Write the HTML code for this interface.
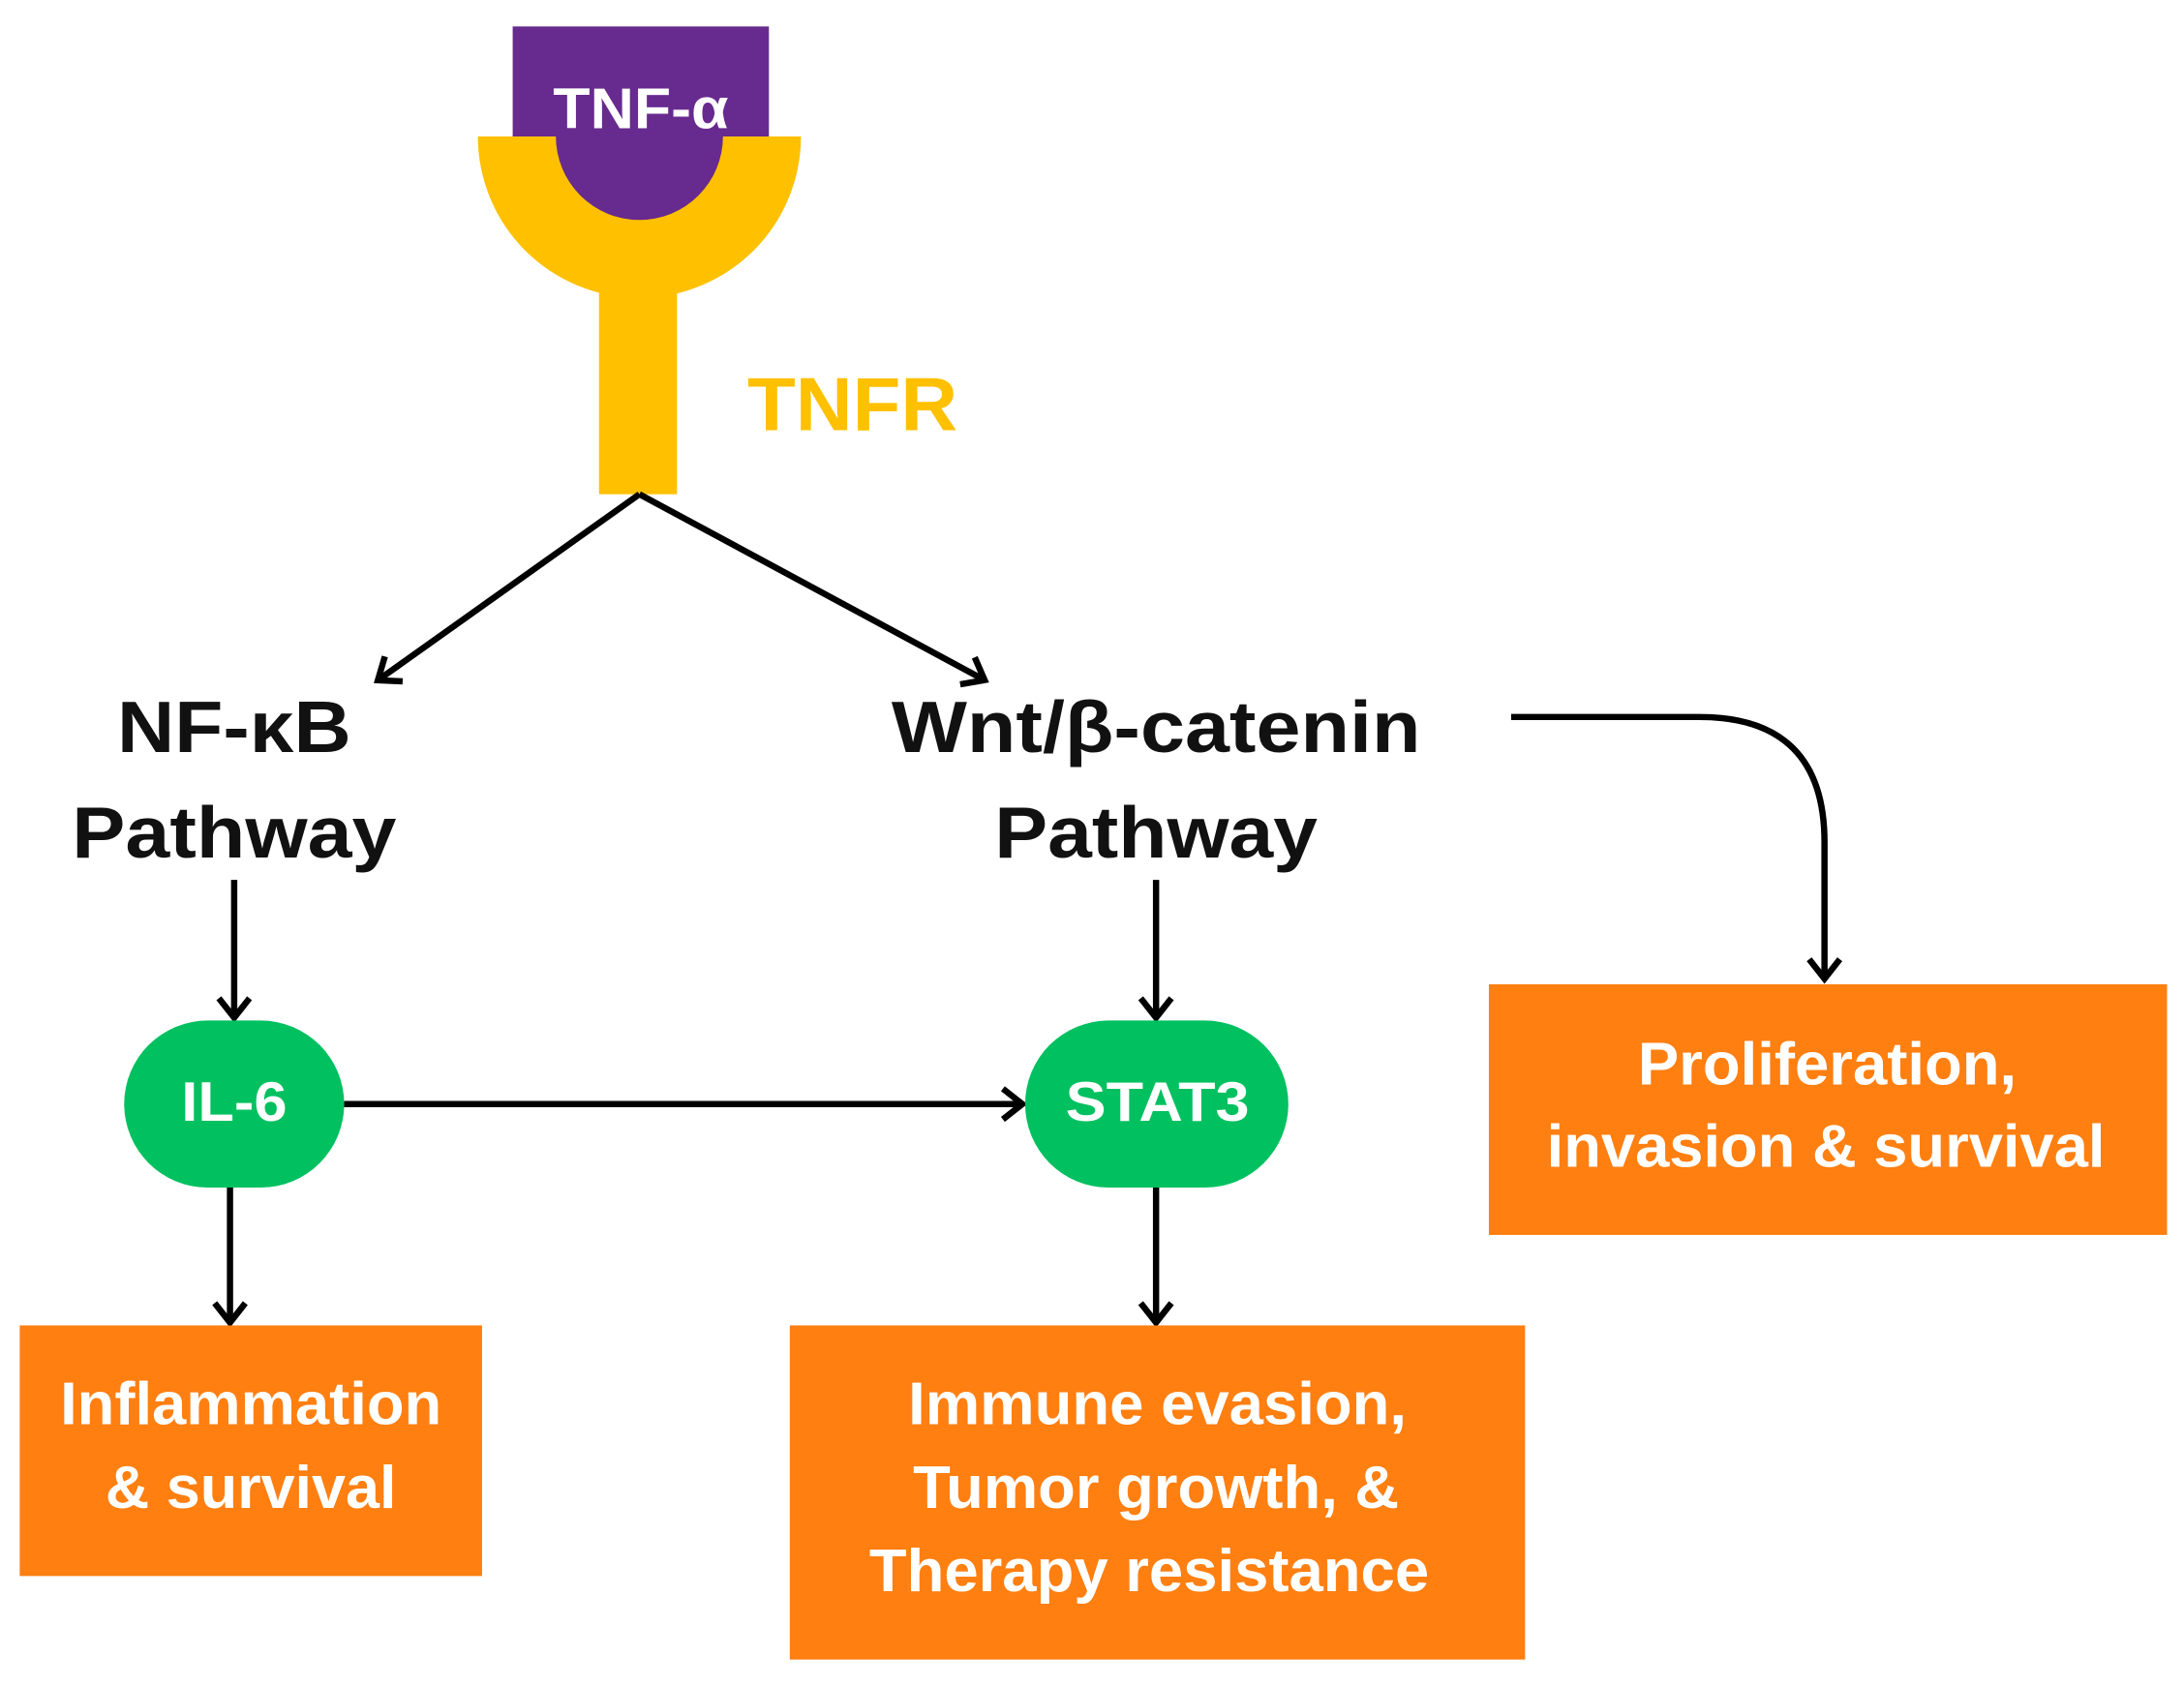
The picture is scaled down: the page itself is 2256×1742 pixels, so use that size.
<!DOCTYPE html>
<html><head><meta charset="utf-8"><style>html,body{margin:0;padding:0;background:#fff}svg{display:block}</style></head>
<body>
<svg width="2256" height="1742" viewBox="0 0 1568 1211" xmlns="http://www.w3.org/2000/svg" font-family="Liberation Sans, sans-serif" font-weight="bold">
<defs>
<marker id="m" markerWidth="30" markerHeight="30" refX="25" refY="15" orient="auto" markerUnits="userSpaceOnUse"><path d="M12,4 L26,15 L12,26" fill="none" stroke="#000" stroke-width="4.5"/></marker></defs>
<rect x="368" y="19" width="184" height="82" fill="#672A8E"/>
<path d="M343,98 A116,116 0 0 0 575,98 Z" fill="#FFC000"/>
<rect x="430" y="190" width="56" height="165" fill="#FFC000"/>
<path d="M399,98 A60,60 0 0 0 519,98 Z" fill="#672A8E"/>
<g text-anchor="middle" lengthAdjust="spacingAndGlyphs">
<text x="460" y="92" font-size="41" fill="#fff" textLength="126" lengthAdjust="spacingAndGlyphs">TNF-α</text>
<text x="612" y="309" font-size="54" fill="#FFC000" textLength="151" lengthAdjust="spacingAndGlyphs">TNFR</text>
</g>
<g stroke="#000" stroke-width="4.5" fill="none" marker-end="url(#m)">
<line x1="459" y1="355" x2="272" y2="488"/>
<line x1="459" y1="355" x2="706" y2="488"/>
<path d="M1085,515 L1220,515 Q1310,515 1310,605 L1310,702"/>
<line x1="168" y1="632" x2="168" y2="730"/>
<line x1="830" y1="632" x2="830" y2="730"/>
<line x1="247" y1="793" x2="733" y2="793"/>
<line x1="165" y1="853" x2="165" y2="949"/>
<line x1="830" y1="853" x2="830" y2="949"/>
</g>
<g font-size="52" fill="#111" text-anchor="middle">
<text x="168" y="540" textLength="168" lengthAdjust="spacingAndGlyphs">NF-κB</text>
<text x="168" y="616" textLength="233" lengthAdjust="spacingAndGlyphs">Pathway</text>
<text x="830" y="540" textLength="380" lengthAdjust="spacingAndGlyphs">Wnt/β-catenin</text>
<text x="830" y="616" textLength="232" lengthAdjust="spacingAndGlyphs">Pathway</text>
</g>
<rect x="89" y="733" width="158" height="120" rx="60" fill="#00C060"/>
<rect x="736" y="733" width="189" height="120" rx="60" fill="#00C060"/>
<g font-size="40" fill="#fff" text-anchor="middle">
<text x="168" y="805" textLength="76" lengthAdjust="spacingAndGlyphs">IL-6</text>
<text x="831" y="805" textLength="132" lengthAdjust="spacingAndGlyphs">STAT3</text>
</g>
<g fill="#FF7F11">
<rect x="14" y="952" width="332" height="180"/>
<rect x="567" y="952" width="528" height="240"/>
<rect x="1069" y="707" width="487" height="180"/>
</g>
<g font-size="43" fill="#fff" text-anchor="middle">
<text x="180" y="1023" textLength="274" lengthAdjust="spacingAndGlyphs">Inflammation</text>
<text x="180" y="1083" textLength="209" lengthAdjust="spacingAndGlyphs">&amp; survival</text>
<text x="831" y="1023" textLength="358" lengthAdjust="spacingAndGlyphs">Immune evasion,</text>
<text x="830" y="1083" textLength="349" lengthAdjust="spacingAndGlyphs">Tumor growth, &amp;</text>
<text x="825" y="1143" textLength="402" lengthAdjust="spacingAndGlyphs">Therapy resistance</text>
<text x="1312" y="779" textLength="272" lengthAdjust="spacingAndGlyphs">Proliferation,</text>
<text x="1311" y="838" textLength="401" lengthAdjust="spacingAndGlyphs">invasion &amp; survival</text>
</g>
</svg>
</body></html>
